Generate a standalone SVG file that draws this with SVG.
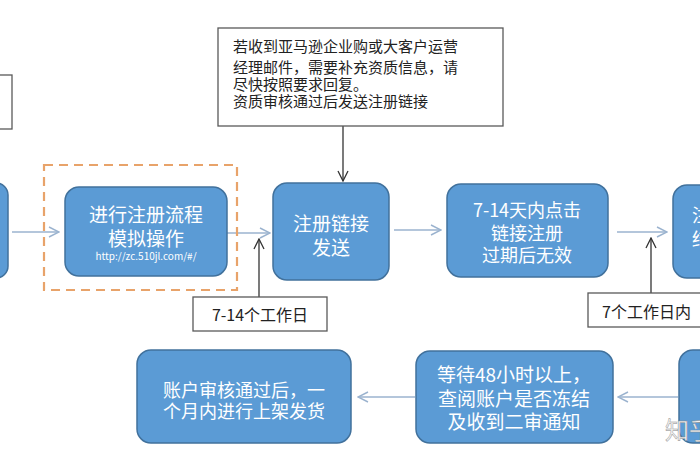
<svg xmlns="http://www.w3.org/2000/svg" width="700" height="470" viewBox="0 0 700 470">
<defs>
<style>
.node{fill:#5b9bd5;stroke:#41719c;stroke-width:1.5}
.nt{fill:#ffffff;font-family:"Noto Sans CJK SC","Noto Sans",sans-serif;font-size:18px;text-anchor:middle;dominant-baseline:central}
.box{fill:#ffffff;stroke:#595959;stroke-width:1.3}
.bt{fill:#222222;font-family:"Noto Sans CJK SC","Noto Sans",sans-serif;font-size:15px}
.lt{fill:#222222;font-family:"Noto Sans CJK SC","Noto Sans",sans-serif;font-size:16px;dominant-baseline:central}
.conn{stroke:#9bb3cf;stroke-width:1.5;fill:none}
.up{stroke:#333333;stroke-width:1.3;fill:none}
</style>
<marker id="ah" viewBox="0 0 12 12" refX="11" refY="6" markerWidth="12" markerHeight="12" markerUnits="userSpaceOnUse" orient="auto">
<path d="M1,1 L11,6 L1,11" fill="none" stroke="#9bb3cf" stroke-width="1.4"/>
</marker>
<marker id="ahd" viewBox="0 0 12 12" refX="11" refY="6" markerWidth="12" markerHeight="12" markerUnits="userSpaceOnUse" orient="auto">
<path d="M1,1 L11,6 L1,11" fill="none" stroke="#333333" stroke-width="1.3"/>
</marker>
</defs>
<rect width="700" height="470" fill="#ffffff"/>

<g id="connectors">
<line class="conn" x1="12" y1="232" x2="59" y2="232" marker-end="url(#ah)"/>
<line class="conn" x1="227" y1="233" x2="270" y2="233" marker-end="url(#ah)"/>
<line class="conn" x1="394" y1="230" x2="441" y2="230" marker-end="url(#ah)"/>
<line class="conn" x1="617" y1="232" x2="667" y2="232" marker-end="url(#ah)"/>
<line class="conn" x1="678" y1="397" x2="618" y2="397" marker-end="url(#ah)"/>
<line class="conn" x1="415" y1="397" x2="358" y2="397" marker-end="url(#ah)"/>
<line class="up" x1="343" y1="126" x2="343" y2="181" marker-end="url(#ahd)"/>
<line class="up" x1="259" y1="297" x2="259" y2="239" marker-end="url(#ahd)"/>
<line class="up" x1="651" y1="293" x2="651" y2="238" marker-end="url(#ahd)"/>
</g>

<g id="box-left-top">
<rect class="box" x="-5" y="75" width="17" height="54"/>
</g>

<g id="node-left">
<rect class="node" x="-20" y="183" width="28" height="95" rx="12"/>
</g>

<g id="dashed-group">
<rect x="44" y="165" width="193" height="125" fill="none" stroke="#e8a36a" stroke-width="2.2" stroke-dasharray="9,6"/>
</g>

<g id="node-simulate">
<rect class="node" x="65" y="187" width="162" height="89" rx="14"/>
<text class="nt" x="146" y="213" style="font-size:19px">进行注册流程</text>
<text class="nt" x="146" y="237" style="font-size:19px">模拟操作</text>
<text class="nt" x="146" y="255" style="font-size:10px">http://zc.510jl.com/#/</text>
</g>

<g id="note-top">
<rect class="box" x="218" y="28" width="285" height="98"/>
<text class="bt" x="233" y="52">若收到亚马逊企业购或大客户运营</text>
<text class="bt" x="233" y="73">经理邮件，需要补充资质信息，请</text>
<text class="bt" x="233" y="90">尽快按照要求回复。</text>
<text class="bt" x="233" y="107">资质审核通过后发送注册链接</text>
</g>

<g id="node-send">
<rect class="node" x="273" y="183" width="116" height="97" rx="14"/>
<text class="nt" x="331" y="222" style="font-size:19px">注册链接</text>
<text class="nt" x="331" y="246" style="font-size:19px">发送</text>
</g>

<g id="node-click">
<rect class="node" x="447" y="184" width="161" height="93" rx="14"/>
<text class="nt" x="527" y="209">7-14天内点击</text>
<text class="nt" x="527" y="232">链接注册</text>
<text class="nt" x="527" y="254">过期后无效</text>
</g>

<g id="node-right">
<rect class="node" x="673" y="185" width="60" height="93" rx="14"/>
<text class="nt" x="692" y="214" style="text-anchor:start">注</text>
<text class="nt" x="692" y="238" style="text-anchor:start">结</text>
</g>

<g id="label-7-14">
<rect class="box" x="193" y="297" width="134" height="34"/>
<text class="lt" x="260" y="314" text-anchor="middle">7-14个工作日</text>
</g>

<g id="label-7">
<rect class="box" x="588" y="293" width="130" height="34"/>
<text class="lt" x="602" y="311">7个工作日内</text>
</g>

<g id="node-bottom-right">
<rect class="node" x="679" y="350" width="60" height="93" rx="14"/>
</g>

<g id="node-wait">
<rect class="node" x="416" y="351" width="197" height="92" rx="14"/>
<text class="nt" x="514" y="373" style="font-size:19px">等待48小时以上，</text>
<text class="nt" x="514" y="397" style="font-size:19px">查阅账户是否冻结</text>
<text class="nt" x="514" y="420" style="font-size:19px">及收到二审通知</text>
</g>

<g id="node-ship">
<rect class="node" x="137" y="350" width="214" height="93" rx="14"/>
<text class="nt" x="244" y="389">账户审核通过后，一</text>
<text class="nt" x="244" y="410">个月内进行上架发货</text>
</g>

<text x="665" y="428" fill="#f2f2f2" stroke="#8a8a8a" stroke-width="0.4" font-family="Noto Sans CJK SC, sans-serif" font-size="24" dominant-baseline="central">知乎</text>
</svg>
